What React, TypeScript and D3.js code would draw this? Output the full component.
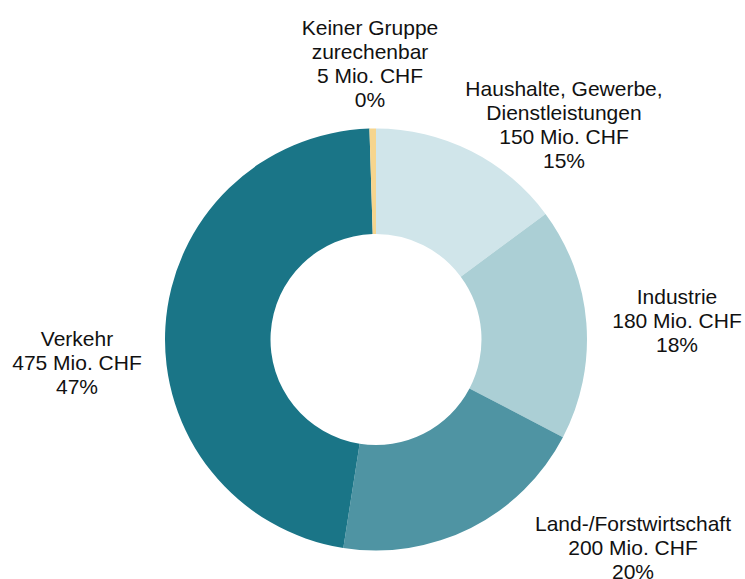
import * as d3 from "d3";

// emissions costs by group, Mio. CHF
const groups = [
  ["Haushalte, Gewerbe,", "Dienstleistungen"],
  ["Industrie"],
  ["Land-/Forstwirtschaft"],
  ["Verkehr"],
  ["Keiner Gruppe", "zurechenbar"],
];
const values = [150, 180, 200, 475, 5];
const colors = ["#d0e5ea", "#abcfd5", "#4f94a3", "#1a7587", "#f6d58e"];

// label anchors (first baseline) relative to the donut centre
const labelOffsets = [
  [188, -244],
  [301, -36],
  [257, 191],
  [-299, 6],
  [-6, -305],
];

const width = 745;
const height = 579;
const cx = 376;
const cy = 339.5;
const outer = 211;
const inner = 105.5;
const lineH = 24.3;

export default function App() {
  const total = d3.sum(values);
  const pie = d3
    .pie<number>()
    .sort(null)
    .value((d) => d);
  const arcs = pie(values);
  const arc = d3
    .arc<d3.PieArcDatum<number>>()
    .innerRadius(inner)
    .outerRadius(outer);

  return (
    <svg
      width={width}
      height={height}
      style={{ position: "absolute", left: 0, top: 0, background: "#fff" }}
      fontFamily="'Liberation Sans', Arial, sans-serif"
      fontSize={21}
    >
      <g transform={`translate(${cx},${cy})`}>
        {arcs.map((a, i) => (
          <path key={i} d={arc(a) || ""} fill={colors[i]} />
        ))}

        {/* labels */}
        {arcs.map((a, i) => {
          let lines = [
            ...groups[i],
            `${values[i]} Mio. CHF`,
            `${Math.round((values[i] / total) * 100)}%`,
          ];
          let [dx, dy] = labelOffsets[i];
          return (
            <text key={i} textAnchor="middle" fill="#111">
              {lines.map((l, j) => (
                <tspan key={j} x={dx} y={dy + j * lineH}>
                  {l}
                </tspan>
              ))}
            </text>
          );
        })}
      </g>
    </svg>
  );
}
